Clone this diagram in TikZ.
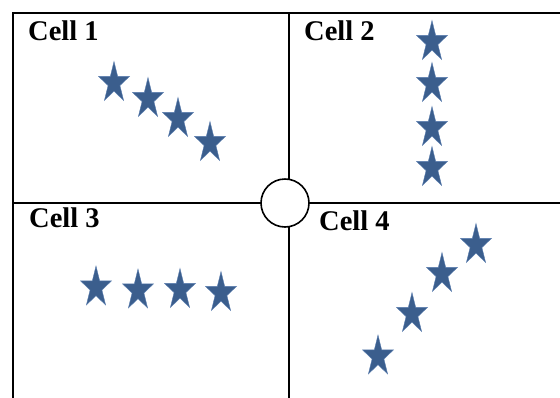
\documentclass[tikz,border=0pt]{standalone}
\usepackage{fontspec}
\setmainfont{Liberation Serif}
\definecolor{starfill}{RGB}{59,94,141}
\definecolor{staredge}{RGB}{90,125,175}
\tikzset{
  gridline/.style={line width=2pt, line cap=rect},
  celllabel/.style={anchor=base west, inner sep=0pt, font=\fontsize{28.5}{30}\selectfont\bfseries},
  bluestar/.pic={
    \path[fill=starfill, draw=staredge, line width=0.4pt, x=16.3pt, y=21.5pt]
      (90:1) -- (126:.382) -- (162:1) -- (198:.382) -- (234:1) -- (270:.382)
      -- (306:1) -- (342:.382) -- (18:1) -- (54:.382) -- cycle;
  }
}
\begin{document}
\begin{tikzpicture}[x=1pt,y=-1pt]
\useasboundingbox (0,0) rectangle (560,397);
% grid lines
\coordinate (tl) at (13,13);
\coordinate (tr) at (561,13);
\coordinate (bl) at (13,398);
\coordinate (tm) at (289,13);
\coordinate (bm) at (289,398);
\coordinate (ml) at (13,203);
\coordinate (mr) at (561,203);
\draw[gridline] (tr) -- (tl) -- (bl);
\draw[gridline] (tm) -- (bm);
\draw[gridline] (ml) -- (mr);
\node[circle, draw, fill=white, line width=1.6pt, minimum size=48pt, inner sep=0pt] (hub) at (285,203) {};
% labels
\node[celllabel] (c1) at (28,40.5) {Cell 1};
\node[celllabel] (c2) at (304,40.5) {Cell 2};
\node[celllabel] (c3) at (29,227.5) {Cell 3};
\node[celllabel] (c4) at (319,230) {Cell 4};
% cell 1 stars
\pic at (114,83) {bluestar};
\pic at (148,99) {bluestar};
\pic at (178,119) {bluestar};
\pic at (210,143) {bluestar};
% cell 2 stars
\pic at (432,42) {bluestar};
\pic at (432,84) {bluestar};
\pic at (432,128) {bluestar};
\pic at (432,168) {bluestar};
% cell 3 stars
\pic at (96,287.5) {bluestar};
\pic at (138,290.5) {bluestar};
\pic at (180,290) {bluestar};
\pic at (221,293) {bluestar};
% cell 4 stars
\pic at (476,245) {bluestar};
\pic at (442,274) {bluestar};
\pic at (412,314) {bluestar};
\pic at (378,356.5) {bluestar};
\end{tikzpicture}
\end{document}
